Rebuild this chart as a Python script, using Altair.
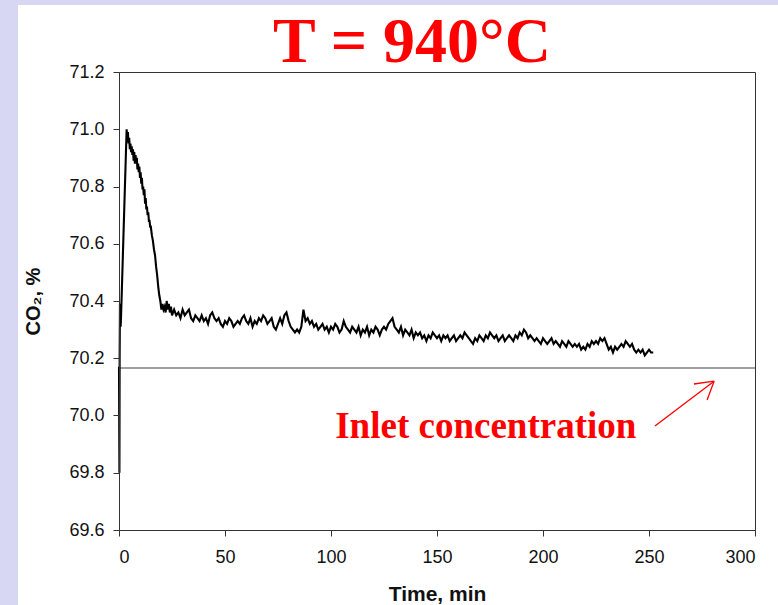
import altair as alt
import pandas as pd

# ---- data ----
TIME_EARLY = [0, 0.2, 0.3, 0.45, 0.6, 0.75, 0.9, 3.6, 3.9, 4.2, 4.5, 4.8, 5.1, 5.4, 5.7, 6.0,
              6.3, 6.6, 6.9, 7.2, 7.5, 7.8, 8.1, 8.4, 8.7, 9.0, 9.3, 9.6, 9.9, 10.2, 10.5,
              10.8, 11.1, 11.4, 11.7, 12.0, 12.3, 12.6, 12.9, 13.2, 13.5, 13.8, 14.1, 14.4,
              14.7, 15.0, 15.5, 16.0, 16.5, 17.0, 17.5, 18.0, 18.5, 19.0, 19.5, 20.0, 20.5,
              21.0, 21.5, 22.0, 22.5, 23.0, 23.5, 24.0, 24.5, 25.0]
CO2_EARLY = [70.17, 69.80, 70.20, 70.39, 70.35, 70.31, 70.33, 71.00, 70.97, 70.99, 70.95, 70.97,
             70.93, 70.95, 70.92, 70.94, 70.91, 70.93, 70.89, 70.92, 70.88, 70.91, 70.89, 70.90,
             70.86, 70.88, 70.85, 70.87, 70.83, 70.85, 70.81, 70.83, 70.79, 70.80, 70.77, 70.79,
             70.74, 70.76, 70.72, 70.73, 70.70, 70.71, 70.68, 70.68, 70.66, 70.66, 70.63, 70.61,
             70.58, 70.56, 70.52, 70.49, 70.45, 70.42, 70.40, 70.37, 70.39, 70.37, 70.38, 70.36,
             70.40, 70.37, 70.39, 70.36, 70.38, 70.35]
TIME_LATE = list(range(26, 253))
CO2_LATE = [
    70.37, 70.35, 70.36, 70.34, 70.37, 70.35, 70.36, 70.37, 70.34, 70.33,
    70.35, 70.34, 70.33, 70.35, 70.33, 70.34, 70.32, 70.35, 70.36, 70.34,
    70.33, 70.34, 70.32, 70.31, 70.33, 70.32, 70.34, 70.33, 70.31, 70.32,
    70.33, 70.32, 70.34, 70.35, 70.33, 70.32, 70.34, 70.31, 70.33, 70.32,
    70.34, 70.33, 70.35, 70.34, 70.32, 70.33, 70.34, 70.31, 70.30, 70.32,
    70.34, 70.32, 70.35, 70.36, 70.33, 70.31, 70.30, 70.29, 70.30, 70.29,
    70.31, 70.37, 70.33, 70.34, 70.32, 70.33, 70.31, 70.32, 70.30, 70.31,
    70.32, 70.30, 70.31, 70.29, 70.31, 70.30, 70.32, 70.31, 70.29, 70.30,
    70.33, 70.31, 70.30, 70.29, 70.31, 70.30, 70.29, 70.31, 70.28, 70.30,
    70.29, 70.31, 70.28, 70.30, 70.29, 70.31, 70.30, 70.28, 70.30, 70.31,
    70.30, 70.32, 70.33, 70.34, 70.31, 70.30, 70.29, 70.31, 70.28, 70.30,
    70.29, 70.28, 70.30, 70.27, 70.29, 70.28, 70.29, 70.27, 70.28, 70.26,
    70.28, 70.27, 70.29, 70.28, 70.27, 70.28, 70.26, 70.28, 70.27, 70.28,
    70.26, 70.27, 70.28, 70.26, 70.27, 70.28, 70.27, 70.29, 70.28, 70.27,
    70.26, 70.25, 70.27, 70.26, 70.28, 70.27, 70.26, 70.28, 70.27, 70.29,
    70.28, 70.27, 70.28, 70.26, 70.27, 70.28, 70.26, 70.27, 70.28, 70.27,
    70.26, 70.28, 70.27, 70.29, 70.28, 70.30, 70.29, 70.27, 70.28, 70.27,
    70.26, 70.27, 70.26, 70.25, 70.27, 70.26, 70.25, 70.26, 70.27, 70.25,
    70.26, 70.25, 70.24, 70.26, 70.25, 70.24, 70.26, 70.25, 70.24, 70.25,
    70.24, 70.25, 70.23, 70.24, 70.23, 70.25, 70.24, 70.26, 70.25, 70.26,
    70.25, 70.27, 70.26, 70.27, 70.25, 70.23, 70.24, 70.22, 70.24, 70.23,
    70.24, 70.25, 70.24, 70.26, 70.25, 70.24, 70.25, 70.23, 70.22, 70.23,
    70.22, 70.23, 70.21, 70.22, 70.23, 70.22, 70.22]

INLET_CO2 = 70.166
INLET_X = [0, 300]

LABEL_TEXT = ["Inlet concentration"]
LABEL_X = [173]
LABEL_Y = [69.921]

ARROW_X1 = [252.8, 280.7, 280.7]
ARROW_Y1 = [69.963, 70.12, 70.12]
ARROW_X2 = [280.7, 271.2, 277.4]
ARROW_Y2 = [70.12, 70.11, 70.054]

TITLE = ["T = 940°C"]

# ---- layout ----
W, H = 636, 458
PAD_L, PAD_T = 119, 72
PAD_R, PAD_B = 778 - PAD_L - W, 605 - PAD_T - H
LAVENDER = "#D7D7F4"
AXIS_COLOR = "#333333"

series = pd.DataFrame({
    "t": TIME_EARLY + TIME_LATE,
    "co2": CO2_EARLY + CO2_LATE,
})
inlet = pd.DataFrame({"t": INLET_X, "co2": [INLET_CO2, INLET_CO2]})
label = pd.DataFrame({"t": LABEL_X, "co2": LABEL_Y, "text": LABEL_TEXT})
arrow = pd.DataFrame({"x1": ARROW_X1, "y1": ARROW_Y1, "x2": ARROW_X2, "y2": ARROW_Y2})
title_df = pd.DataFrame({"text": TITLE})

xscale = alt.Scale(domain=[0, 300], nice=False, zero=False)
yscale = alt.Scale(domain=[69.6, 71.2], nice=False, zero=False)

xaxis = alt.Axis(values=[0, 50, 100, 150, 200, 250, 300], grid=False, tickSize=6,
                 labelPadding=12, labelFontSize=18, labelFont="Liberation Sans",
                 labelColor="#111111", domainColor=AXIS_COLOR, tickColor=AXIS_COLOR,
                 title="Time, min", titleFont="Liberation Sans", titleFontSize=21,
                 titleFontWeight="bold", titleColor="#111111", titlePadding=17, zindex=1)
yaxis = alt.Axis(values=[69.6, 69.8, 70.0, 70.2, 70.4, 70.6, 70.8, 71.0, 71.2], format=".1f",
                 grid=False, tickSize=6, labelPadding=9, labelFontSize=18,
                 labelFont="Liberation Sans", labelColor="#111111",
                 domainColor=AXIS_COLOR, tickColor=AXIS_COLOR,
                 title="CO₂, %", titleFont="Liberation Sans", titleFontSize=20,
                 titleFontWeight="bold", titleColor="#111111", titlePadding=25, zindex=1)

strip_left = alt.Chart(pd.DataFrame({"a": [0]})).mark_rect(color=LAVENDER).encode(
    x=alt.value(-PAD_L), x2=alt.value(-PAD_L + 18), y=alt.value(-PAD_T), y2=alt.value(H + PAD_B))
strip_top = alt.Chart(pd.DataFrame({"a": [0]})).mark_rect(color=LAVENDER).encode(
    x=alt.value(-PAD_L), x2=alt.value(W + PAD_R), y=alt.value(-PAD_T), y2=alt.value(-PAD_T + 5))

title_text = alt.Chart(title_df).mark_text(
    font="Liberation Serif", fontSize=64, fontWeight="bold", color="#FF0000",
    baseline="alphabetic", align="center").encode(
    x=alt.value(412 - PAD_L), y=alt.value(62 - PAD_T), text="text:N")

line = alt.Chart(series).mark_line(color="black", strokeWidth=2.1, strokeJoin="miter").encode(
    x=alt.X("t:Q", scale=xscale, axis=xaxis),
    y=alt.Y("co2:Q", scale=yscale, axis=yaxis),
)
inlet_line = alt.Chart(inlet).mark_line(color="#444444", strokeWidth=1.2).encode(
    x="t:Q", y="co2:Q")
label_text = alt.Chart(label).mark_text(
    font="Liberation Serif", fontSize=37, fontWeight="bold", color="#FF0000",
    baseline="alphabetic", align="center").encode(x="t:Q", y="co2:Q", text="text:N")
arrow_rules = alt.Chart(arrow).mark_rule(color="#FF0000", strokeWidth=1.3).encode(
    x="x1:Q", y="y1:Q", x2="x2:Q", y2="y2:Q")

chart = alt.layer(strip_left, strip_top, title_text, inlet_line, line, label_text,
                  arrow_rules).properties(
    width=W, height=H,
    autosize=alt.AutoSizeParams(type="none"),
    padding={"left": PAD_L, "top": PAD_T, "right": PAD_R, "bottom": PAD_B},
).configure(background="white").configure_view(stroke=AXIS_COLOR, strokeWidth=1)

chart.save("out.html", embed_options={"renderer": "svg", "actions": False})
